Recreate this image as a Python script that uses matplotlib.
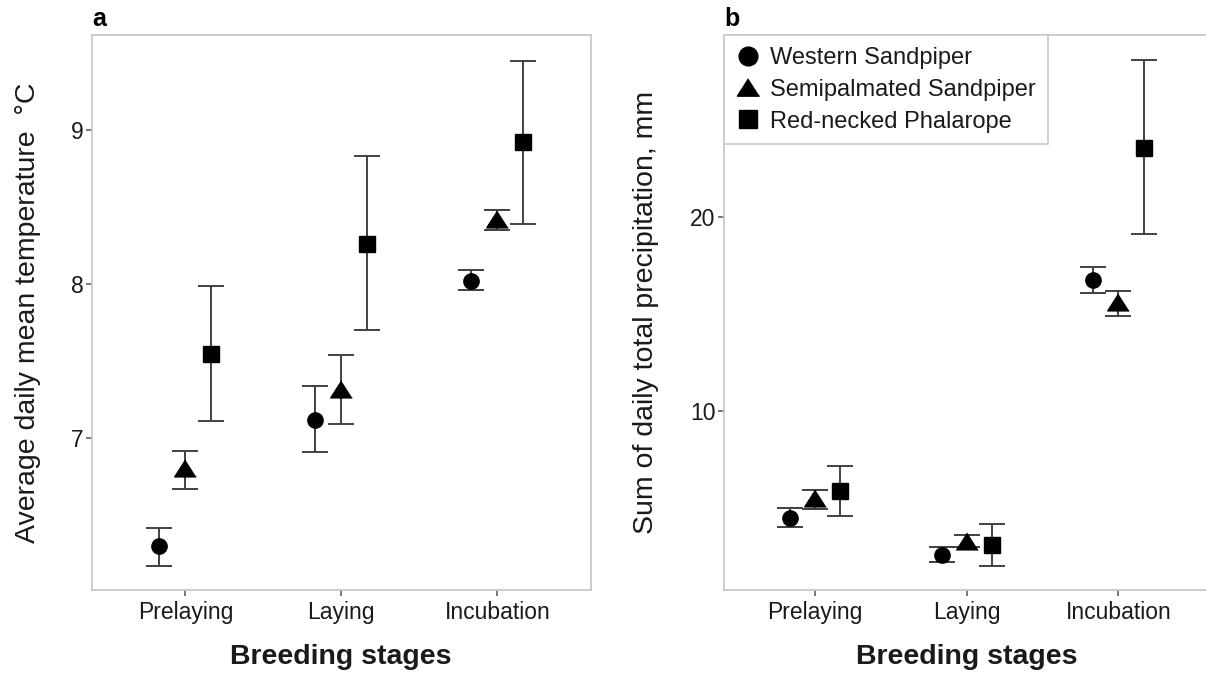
import matplotlib
matplotlib.use('Agg')
import matplotlib.pyplot as plt
import numpy as np

plt.rcParams['font.family'] = ['Liberation Sans', 'DejaVu Sans']

# ---------------- data ----------------
stages = ['Prelaying', 'Laying', 'Incubation']
species = ['Western Sandpiper', 'Semipalmated Sandpiper', 'Red-necked Phalarope']

# Panel a: average daily mean temperature (°C)
temp_western_mean = [6.30, 7.12, 8.02]
temp_western_low = [6.17, 6.91, 7.96]
temp_western_high = [6.42, 7.34, 8.09]

temp_semipal_mean = [6.81, 7.32, 8.42]
temp_semipal_low = [6.67, 7.09, 8.35]
temp_semipal_high = [6.92, 7.54, 8.48]

temp_phalarope_mean = [7.55, 8.26, 8.92]
temp_phalarope_low = [7.11, 7.70, 8.39]
temp_phalarope_high = [7.99, 8.83, 9.45]

# Panel b: sum of daily total precipitation (mm)
prec_western_mean = [4.48, 2.56, 16.74]
prec_western_low = [3.99, 2.19, 16.08]
prec_western_high = [4.97, 2.96, 17.39]

prec_semipal_mean = [5.48, 3.29, 15.62]
prec_semipal_low = [4.92, 2.98, 14.88]
prec_semipal_high = [5.91, 3.61, 16.19]

prec_phalarope_mean = [5.88, 3.08, 23.54]
prec_phalarope_low = [4.57, 2.01, 19.09]
prec_phalarope_high = [7.16, 4.16, 28.08]

temp_yticks = [7, 8, 9]
prec_yticks = [10, 20]

# ---------------- figure ----------------
W, H = 1206, 677
fig = plt.figure(figsize=(W / 100, H / 100), dpi=100)
fig.patch.set_facecolor('white')

ax_a = fig.add_axes([91.7 / W, 1 - 590 / H, (591 - 91.7) / W, (590 - 34.7) / H])
ax_b = fig.add_axes([724 / W, 1 - 590 / H, 485.5 / W, (590 - 35) / H])

tri = [(0, 0.78), (-1, -0.78), (1, -0.78)]
markers = ['o', tri, 's']
msizes = [11, 15.5, 11.5]
leg_msizes = [13.5, 16, 12.5]
offsets = [-0.166, 0.0, 0.166]

temp_series = [
    (temp_western_mean, temp_western_low, temp_western_high),
    (temp_semipal_mean, temp_semipal_low, temp_semipal_high),
    (temp_phalarope_mean, temp_phalarope_low, temp_phalarope_high),
]
prec_series = [
    (prec_western_mean, prec_western_low, prec_western_high),
    (prec_semipal_mean, prec_semipal_low, prec_semipal_high),
    (prec_phalarope_mean, prec_phalarope_low, prec_phalarope_high),
]

xbase = np.arange(1, len(stages) + 1)
err_col = '#404040'


def draw(ax, series):
    for i, (m, lo, hi) in enumerate(series):
        m = np.array(m); lo = np.array(lo); hi = np.array(hi)
        x = xbase + offsets[i]
        ax.errorbar(x, m, yerr=[m - lo, hi - m], fmt='none', ecolor=err_col,
                    elinewidth=1.4, capsize=9.2, capthick=1.4, zorder=2)
        ax.plot(x, m, ls='none', marker=markers[i], ms=msizes[i],
                color='black', mec='black', zorder=3, label=species[i])


draw(ax_a, temp_series)
draw(ax_b, prec_series)

for ax in (ax_a, ax_b):
    ax.set_xlim(0.4, 3.6)
    ax.set_xticks(xbase)
    ax.set_xticklabels(stages)
    for sp in ax.spines.values():
        sp.set_color('#c8c8c8')
        sp.set_linewidth(1.3)
    ax.tick_params(direction='out', length=4, width=1.1, color='#555555',
                   labelsize=16.5, labelcolor='#1a1a1a')
    ax.tick_params(axis='y', pad=2)
    ax.tick_params(axis='x', pad=4)

ax_a.set_ylim(6.016, 9.618)
ax_a.set_yticks(temp_yticks)
ax_b.set_ylim(0.76, 29.37)
ax_b.set_yticks(prec_yticks)

# axis titles
fig.text(28 / W, 1 - 313 / H, 'Average daily mean temperature  °C', rotation=90,
         ha='center', va='center', fontsize=20.5, color='#1a1a1a')
fig.text(646 / W, 1 - 312 / H, 'Sum of daily total precipitation, mm', rotation=90,
         ha='center', va='center', fontsize=20.5, color='#1a1a1a')
fig.text(341 / W, 1 - 657 / H, 'Breeding stages', ha='center', va='center',
         fontsize=20.5, fontweight='bold', color='#1a1a1a')
fig.text(966.7 / W, 1 - 657 / H, 'Breeding stages', ha='center', va='center',
         fontsize=20.5, fontweight='bold', color='#1a1a1a')

# panel letters
fig.text(92 / W, 1 - 26 / H, 'a', fontsize=18, fontweight='bold', va='baseline')
fig.text(724 / W, 1 - 26 / H, 'b', fontsize=18, fontweight='bold', va='baseline')

leg = ax_b.legend(loc='upper left', bbox_to_anchor=(0, 1), borderaxespad=0,
                  fancybox=False, framealpha=1, edgecolor='#c8c8c8',
                  fontsize=17, borderpad=0.5, handlelength=1.0,
                  handletextpad=0.45, labelspacing=0.42)
leg.get_frame().set_linewidth(1.2)
for h, s in zip(leg.legend_handles, leg_msizes):
    h.set_markersize(s)
for t in leg.get_texts():
    t.set_color('#1a1a1a')

fig.savefig('out.png', dpi=100, facecolor='white')
